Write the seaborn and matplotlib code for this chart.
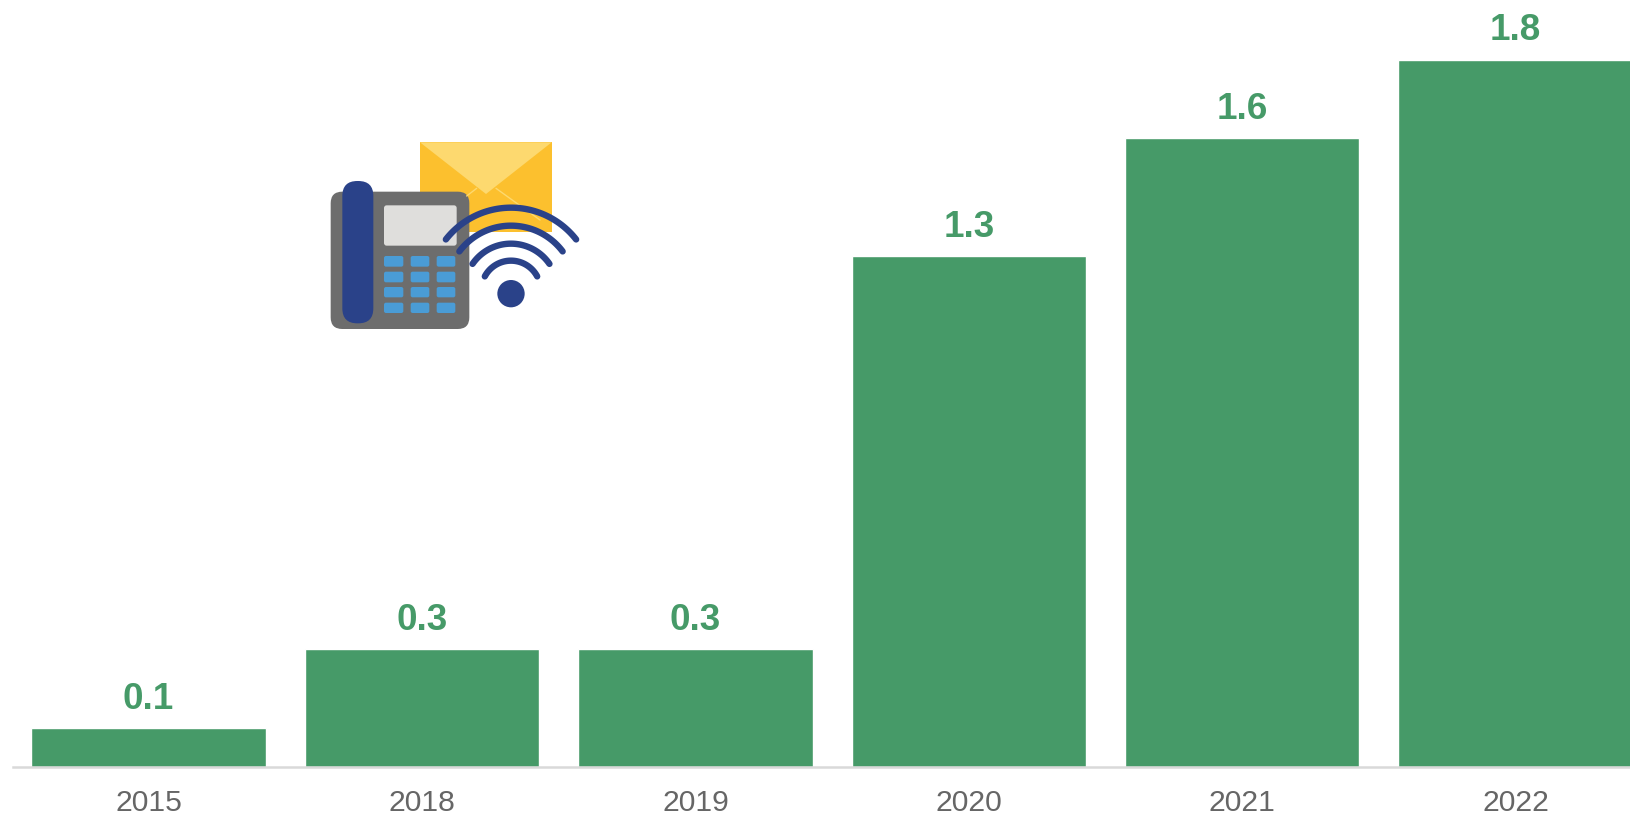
import matplotlib.pyplot as plt
import numpy as np
import seaborn as sns
from matplotlib.patches import Circle, FancyBboxPatch, Polygon, Rectangle

years = ["2015", "2018", "2019", "2020", "2021", "2022"]
values = [0.1, 0.3, 0.3, 1.3, 1.6, 1.8]

GREEN = "#469A68"
NAVY = "#2A4289"

sns.set_theme(style="white")
plt.rcParams["font.family"] = ["Liberation Sans", "DejaVu Sans"]

W, H = 1631, 816
fig = plt.figure(figsize=(W / 100, H / 100), dpi=100)

# axes spans from the left end of the baseline to the right edge, bars get clipped there
ax = fig.add_axes([13 / W, (H - 767) / H, (W - 13) / W, 767 / H])
sns.barplot(x=years, y=values, color=GREEN, saturation=1, width=0.858, ax=ax)
ax.set_xlim((13 - 148.6) / 273.4, (W - 148.6) / 273.4)
ax.set_ylim(0, 767 / 393)

ax.bar_label(ax.containers[0], fmt="%.1f", padding=8, fontsize=26.6,
             fontweight="bold", color=GREEN)

sns.despine(ax=ax, left=True, top=True, right=True)
ax.spines["bottom"].set_color("#D9D9D9")
ax.spines["bottom"].set_linewidth(1.8)
ax.set_yticks([])
ax.tick_params(axis="x", length=0, pad=15.5, labelsize=21.7, labelcolor="#666666")
ax.set_xlabel("")
ax.set_ylabel("")

# phone / mail / wifi icon, drawn in its own little axes
icon = fig.add_axes([310 / W, (H - 340) / H, 290 / W, 220 / H])
icon.set_xlim(0, 870)
icon.set_ylim(660, 0)
icon.axis("off")
icon.patch.set_alpha(0)


def rounded(x0, y0, x1, y1, r, color):
    icon.add_patch(FancyBboxPatch((x0 + r, y0 + r), x1 - x0 - 2 * r, y1 - y0 - 2 * r,
                                  boxstyle=f"round,pad={r},rounding_size={r}",
                                  fc=color, ec="none"))


icon.add_patch(Rectangle((330, 67), 395, 268, fc="#FCC02E", ec="none"))
icon.add_patch(Polygon([(330, 67), (725, 67), (528, 222)], fc="#FDD96F", ec="none"))
icon.plot([470, 500], [228, 205], color="#FDD96F", lw=1)
icon.plot([558, 690], [205, 300], color="#FDD96F", lw=1)

rounded(62, 215, 478, 627, 35, "#6D6D6D")
rounded(97, 183, 190, 610, 45, NAVY)
rounded(222, 256, 440, 377, 8, "#DFDEDC")

for bx0, bx1 in [(222, 280), (302, 358), (380, 436)]:
    for by0, by1 in [(408, 440), (455, 487), (501, 532), (548, 579)]:
        rounded(bx0, by0, bx1, by1, 6, "#4A9CD6")

for radius, spread in [(248, 52), (194, 53), (140, 55.5), (89, 62)]:
    t = np.radians(np.linspace(-spread, spread, 60))
    icon.plot(603 + radius * np.sin(t), 511 - radius * np.cos(t), color=NAVY,
              lw=4.6, solid_capstyle="round")
icon.add_patch(Circle((603, 521), 41, fc=NAVY, ec="none"))

fig.savefig("out.png", dpi=100)
